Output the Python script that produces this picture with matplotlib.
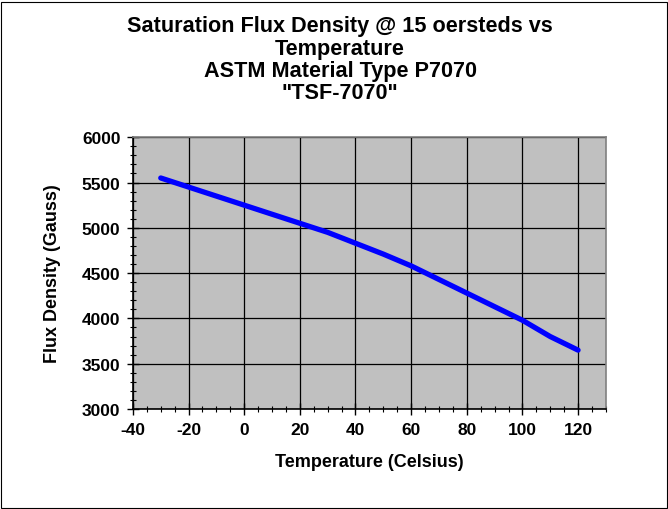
import matplotlib
matplotlib.use("Agg")
import matplotlib.pyplot as plt
from matplotlib.patches import Rectangle
from matplotlib.ticker import MultipleLocator

plt.rcParams['font.family'] = ['Liberation Sans', 'DejaVu Sans']
plt.rcParams['font.weight'] = 'bold'
plt.rcParams['axes.unicode_minus'] = False

# Temperature (Celsius) vs saturation flux density (Gauss)
temps = [-30, -20, -10, 0, 10, 20, 30, 40, 50, 60, 70, 80, 90, 100, 110, 120]
flux = [5550, 5450, 5350, 5250, 5150, 5050, 4950, 4830, 4710, 4580,
        4430, 4280, 4130, 3980, 3800, 3650]

title = 'Saturation Flux Density @ 15 oersteds vs\nTemperature\nASTM Material Type P7070\n"TSF-7070"'

fig = plt.figure(figsize=(6.68, 5.10), dpi=100)
ax = fig.add_axes([0.199, 0.196, 0.708, 0.533])
ax.set_facecolor('#C0C0C0')

ax.plot(temps, flux, color='#0000FF', linewidth=3.8, solid_capstyle='round', zorder=3)

ax.set_xlim(-40, 130)
ax.set_ylim(3000, 6000)
ax.xaxis.set_major_locator(MultipleLocator(20))
ax.xaxis.set_minor_locator(MultipleLocator(5))
ax.yaxis.set_major_locator(MultipleLocator(500))
ax.yaxis.set_minor_locator(MultipleLocator(100))
ax.grid(True, which='major', color='black', linewidth=0.9, zorder=1)
ax.set_axisbelow(True)

ax.tick_params(which='major', direction='inout', length=8, width=1, color='black',
               labelsize=12.5, pad=5)
ax.tick_params(which='minor', direction='inout', length=5, width=0.8, color='black')

for side, sp in ax.spines.items():
    sp.set_color('#808080')
    sp.set_linewidth(1.2)
ax.spines['left'].set_color('black')
ax.spines['bottom'].set_color('black')

ax.set_xlabel('Temperature (Celsius)', fontsize=13, fontweight='bold', labelpad=12)
ax.set_ylabel('Flux Density (Gauss)', fontsize=13, fontweight='bold', labelpad=15)

fig.text(0.509, 0.968, title, ha='center', va='top', fontsize=15.6,
         fontweight='bold', linespacing=1.08)

fig.patches.append(Rectangle((0.002, 0.002), 0.996, 0.993, transform=fig.transFigure,
                             fill=False, edgecolor='black', linewidth=0.8))

fig.savefig('out.png', dpi=100)
